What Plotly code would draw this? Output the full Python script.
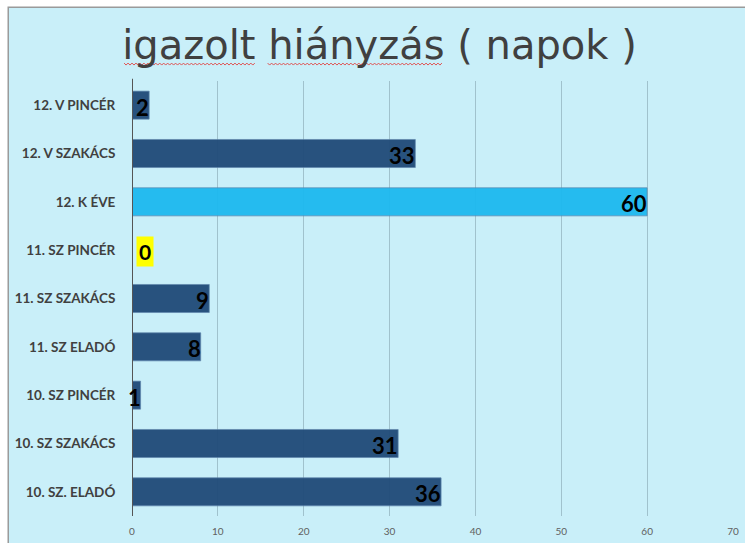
import plotly.graph_objects as go

# absence days per class (top to bottom as listed)
classes = ["12. V PINCÉR", "12. V SZAKÁCS", "12. K ÉVE", "11. SZ PINCÉR",
           "11. SZ SZAKÁCS", "11. SZ ELADÓ", "10. SZ PINCÉR", "10. SZ SZAKÁCS",
           "10. SZ. ELADÓ"]
days = [2, 33, 60, 0, 9, 8, 1, 31, 36]
highlight = "12. K ÉVE"
x_ticks = [0, 10, 20, 30, 40, 50, 60, 70]

W, H = 745, 543
L, R, T, B = 132, 6, 81, 25
pw, ph = W - L - R, H - T - B

navy = "#204a78"
cyan = "#1db9ef"
bg = "#c9eff9"

colors = [cyan if c == highlight else navy for c in classes]

fig = go.Figure(go.Bar(
    x=days, y=classes, orientation="h",
    marker=dict(color=colors, opacity=0.95,
                line=dict(color="rgba(90,130,170,0.7)", width=1)),
    width=0.58, hoverinfo="skip",
))

# value labels at the end of each bar
for c, v in zip(classes, days):
    if v == 0:
        fig.add_annotation(x=v, y=c, text=f"<b>{v}</b>", showarrow=False,
                           xanchor="left", xshift=4, yshift=-1, bgcolor="#ffff00",
                           borderpad=2,
                           font=dict(family="Lato, sans-serif", size=21, color="black"))
    else:
        fig.add_annotation(x=v, y=c, text=f"<b>{v}</b>", showarrow=False,
                           xanchor="right", xshift=2, yshift=-2,
                           font=dict(family="Lato, sans-serif", size=22, color="black"))

# panel background with thin border, offset from the page edge
def px_to_paper(px, py):
    return (px - L) / pw, 1 - (py - T) / ph

x0, y0 = px_to_paper(7, 7)
x1, y1 = px_to_paper(W + 20, H + 20)
fig.add_shape(type="rect", xref="paper", yref="paper", x0=x0, y0=y0, x1=x1, y1=y1,
              fillcolor=bg, line=dict(color="#9a9a9a", width=1.5), layer="below")

# wavy spelling underline beneath the first two words of the title
def squiggle(xa, xb, yc, step=2.0, amp=1.0):
    pts = []
    x = xa
    k = 0
    while x <= xb:
        px, py = px_to_paper(x, yc + (amp if k % 2 else -amp))
        pts.append(f"{px:.5f},{py:.5f}")
        x += step
        k += 1
    return "M" + " L".join(pts)

for xa, xb in [(124, 256), (269, 445)]:
    fig.add_shape(type="path", xref="paper", yref="paper",
                  path=squiggle(xa, xb, 64), line=dict(color="#e05050", width=1))

fig.update_layout(
    width=W, height=H,
    margin=dict(l=L, r=R, t=T, b=B),
    paper_bgcolor="white",
    plot_bgcolor="rgba(0,0,0,0)",
    title=dict(text="igazolt hiányzás ( napok )", xref="paper", x=(382 - L) / pw,
               xanchor="center", y=1 - 45 / H, yanchor="middle",
               font=dict(family="DejaVu Sans, sans-serif", size=40, color="#404040")),
    xaxis=dict(range=[0, 70], tickvals=x_ticks, showgrid=True,
               gridcolor="rgba(110,140,150,0.45)", gridwidth=1, zeroline=False,
               showline=False, ticks="outside", ticklen=6, tickcolor="rgba(0,0,0,0)",
               tickfont=dict(family="Lato, sans-serif", size=10, color="#606060"),
               fixedrange=True),
    yaxis=dict(categoryorder="array", categoryarray=classes[::-1],
               showgrid=False, zeroline=False, showline=False,
               ticks="outside", ticklen=13, tickcolor="rgba(0,0,0,0)",
               tickfont=dict(family="Lato, sans-serif", size=13.5, color="#404040",
                             weight="bold"),
               fixedrange=True),
    showlegend=False,
)

# vertical axis line at zero
fig.add_shape(type="line", xref="x", yref="paper", x0=0, x1=0, y0=0, y1=1.005,
              line=dict(color="#555555", width=2))

fig.write_html("out.html")
